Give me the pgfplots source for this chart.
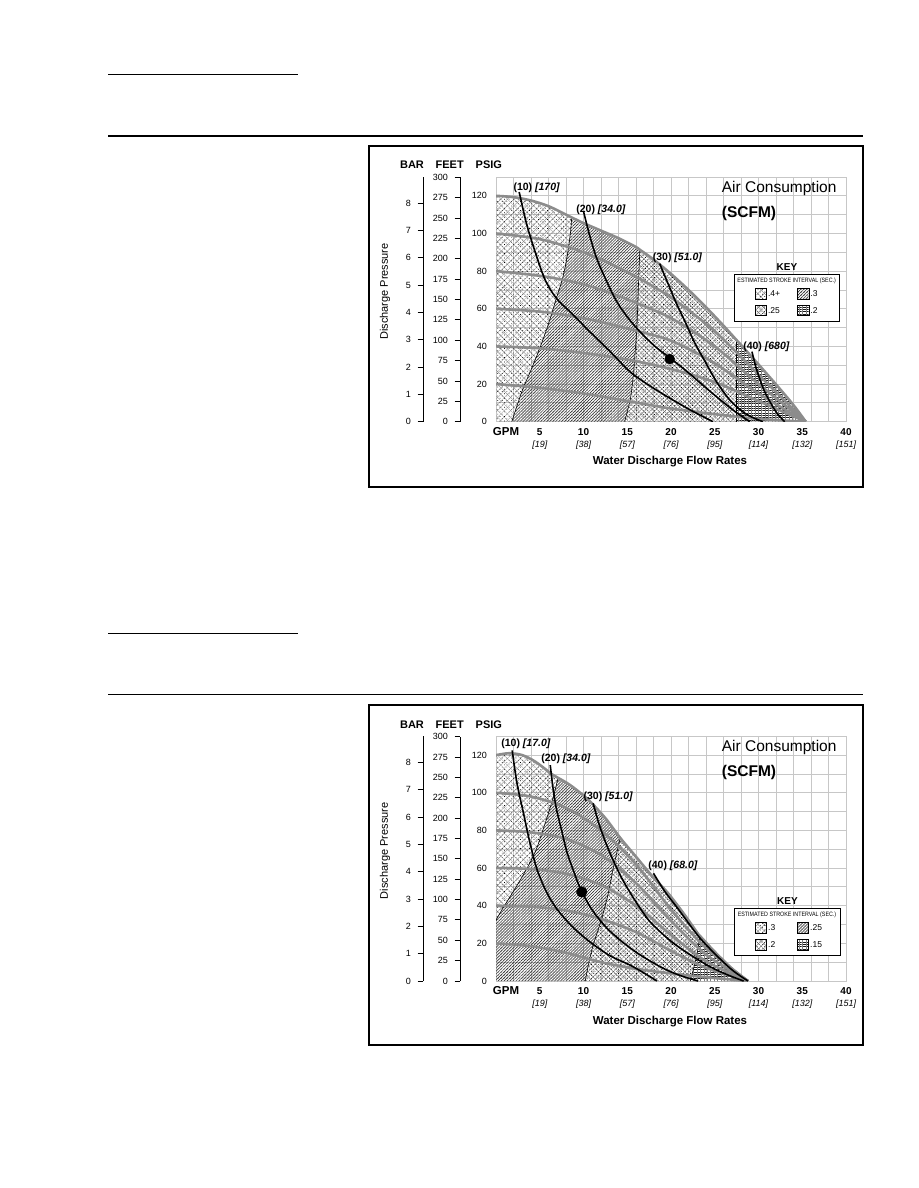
\documentclass[border=0pt]{standalone}
\usepackage{fontspec}
\setmainfont{Liberation Sans}
\usepackage{pgfplots}
\usepackage{pgfplotstable}
\pgfplotsset{compat=1.18}
\usetikzlibrary{patterns,patterns.meta}

% ---------------- TOP CHART DATA ----------------
\pgfplotstableread{
x y
0 120
2 119.3
4 117.5
6 114.5
8 110
8.65 108.5
10 105.5
12 101.5
14 97.5
16 92.8
16.45 91.3
18 86.2
20 78.5
22 70
24 60.8
26 51
27.5 43.3
28 40.8
30 30.4
32 19.8
34 8.8
35.4 0
}\tOuter
\pgfplotstableread{
x y
0 100
5 97
10 90
15 79.5
20 66
25 48
30 25
35.4 0
}\tPa
\pgfplotstableread{
x y
0 80
5 77.5
10 73
15 65
20 55
25 40
30 20
35.4 0
}\tPb
\pgfplotstableread{
x y
0 60
5 58.5
10 55
15 49.5
20 43
25 31
30 15
35.4 0
}\tPc
\pgfplotstableread{
x y
0 40
5 39
10 36.5
15 33
20 28
25 21
30 11
35.4 0
}\tPd
\pgfplotstableread{
x y
0 20
5 18
10 15
15 11
20 7
25 4
30 1.5
35.4 0
}\tPe
\pgfplotstableread{
x y
2.65 122
3.5 105
4.46 90.4
5.6 75.5
6.9 65.6
8.7 57.3
10.7 47.9
13 37.5
15.3 26.6
17.5 19.3
19.9 12.4
22.3 6
24.8 0
}\tSa
\pgfplotstableread{
x y
10 111.7
10.7 99
11.5 86.9
12.6 75
13.8 63.8
15.2 54.5
16.8 46.1
18.3 39.5
19.9 33.8
22 26
24.5 16
27 6.5
29 0
}\tSb
\pgfplotstableread{
x y
18.7 84
19.6 74
20.6 63
21.6 53.2
22.7 42
23.9 31.9
25.3 20.5
26.9 10.6
28.6 4
30.5 0
}\tSc
\pgfplotstableread{
x y
29.25 37.2
29.7 29
30.2 22
30.7 16
31.5 9
32.2 4
33 0
}\tSd
\pgfplotstableread{
x y
8.65 108.5
8.5 100
8.1 87
7.6 76
6.9 65.6
6.0 52
5.0 39
4.0 27.5
3.1 17.8
2.4 8.5
1.8 0
}\tBa
\pgfplotstableread{
x y
16.45 91.3
16.4 87
16.3 75
16.2 62
16.1 49.6
15.9 37
15.7 24.8
15.35 12
14.7 0
}\tBb
\pgfplotstableread{
x y
27.5 43.3
27.5 0
}\tBc
\pgfplotstableread{
x y
0 0
0 120
2 119.3
4 117.5
6 114.5
8 110
8.65 108.5
8.5 100
8.1 87
7.6 76
6.9 65.6
6.0 52
5.0 39
4.0 27.5
3.1 17.8
2.4 8.5
1.8 0
}\tRA
\pgfplotstableread{
x y
1.8 0
2.4 8.5
3.1 17.8
4.0 27.5
5.0 39
6.0 52
6.9 65.6
7.6 76
8.1 87
8.5 100
8.65 108.5
10 105.5
12 101.5
14 97.5
16 92.8
16.45 91.3
16.4 87
16.3 75
16.2 62
16.1 49.6
15.9 37
15.7 24.8
15.35 12
14.7 0
}\tRB
\pgfplotstableread{
x y
14.7 0
15.35 12
15.7 24.8
15.9 37
16.1 49.6
16.2 62
16.3 75
16.4 87
16.45 91.3
18 86.2
20 78.5
22 70
24 60.8
26 51
27.5 43.3
27.5 0
}\tRC
\pgfplotstableread{
x y
27.5 0
27.5 43.3
28 40.8
30 30.4
32 19.8
34 8.8
35.4 0
}\tRD

% ---------------- BOTTOM CHART DATA ----------------
\pgfplotstableread{
x y
0 120
1.5 121
3 120
4.5 116.5
6.5 109.5
7.1 107.9
8.5 104
10.5 96.5
12.5 86.5
14.2 76
16 66
17.8 56
19.6 47
21.5 35.5
23.1 25
23.3 24
25 15.5
27 6.5
28.8 0
}\bOuter
\pgfplotstableread{
x y
0 100
4 98
8 92
12 80
16 62
20 38
24 17.5
28.8 0
}\bPa
\pgfplotstableread{
x y
0 80
4 79
8 75.5
12 67
16 52
20 32
24 14
28.8 0
}\bPb
\pgfplotstableread{
x y
0 60
4 59.5
8 57
12 51
16 40
20 24.5
24 10.5
28.8 0
}\bPc
\pgfplotstableread{
x y
0 40
4 39.5
8 37.5
12 33
16 26
20 16
24 7
28.8 0
}\bPd
\pgfplotstableread{
x y
0 20
4 18.5
8 15
12 10
16 6.5
20 4
24 2
28.8 0
}\bPe
\pgfplotstableread{
x y
1.85 122.5
2.4 105
3.1 90
3.8 75
4.65 59.8
5.7 48
6.9 38.6
8.7 29
10.7 20.9
13 13.5
15.3 8.5
17 4
18.4 0
}\bSa
\pgfplotstableread{
x y
6.2 114.7
6.5 103
6.9 91.6
7.5 80
8.1 68.6
8.9 58
9.8 47.4
11.1 37
12.7 28
14.5 20.5
16.5 13.8
19 7
21 3
23.1 0
}\bSb
\pgfplotstableread{
x y
11.1 94.4
11.8 83
12.65 72.2
13.6 62
14.6 52.7
16 42
17.6 31.5
19.9 21.5
22 14.5
24.5 7.5
26.5 3.2
28.3 0
}\bSc
\pgfplotstableread{
x y
18 57.2
19.3 47.5
20.7 39
23.1 24
25 14.5
27 5.8
28.8 0
}\bSd
\pgfplotstableread{
x y
7.1 107.9
6.5 97
5.8 86.4
5.2 78
4.65 70.5
3.9 63
3.1 56.3
2.3 50
1.5 44
0.7 38
0 32.4
}\bBa
\pgfplotstableread{
x y
14.2 76
13.8 68
13.4 60
12.9 48
12.3 36.8
11.7 27.5
11.1 19
10.6 9.5
10.2 0
}\bBb
\pgfplotstableread{
x y
23.3 24
23.0 15
22.6 7
22.2 0
}\bBc
\pgfplotstableread{
x y
0 32.4
0 120
1.5 121
3 120
4.5 116.5
6.5 109.5
7.1 107.9
6.5 97
5.8 86.4
5.2 78
4.65 70.5
3.9 63
3.1 56.3
2.3 50
1.5 44
0.7 38
}\bRA
\pgfplotstableread{
x y
0 0
0 32.4
0.7 38
1.5 44
2.3 50
3.1 56.3
3.9 63
4.65 70.5
5.2 78
5.8 86.4
6.5 97
7.1 107.9
8.5 104
10.5 96.5
12.5 86.5
14.2 76
13.8 68
13.4 60
12.9 48
12.3 36.8
11.7 27.5
11.1 19
10.6 9.5
10.2 0
}\bRB
\pgfplotstableread{
x y
10.2 0
10.6 9.5
11.1 19
11.7 27.5
12.3 36.8
12.9 48
13.4 60
13.8 68
14.2 76
16 66
17.8 56
19.6 47
21.5 35.5
23.1 25
23.3 24
23.0 15
22.6 7
22.2 0
}\bRC
\pgfplotstableread{
x y
22.2 0
22.6 7
23.0 15
23.3 24
25 15.5
27 6.5
28.8 0
}\bRD

\tikzset{
 pA1/.style={pattern={Hatch[distance=4.6pt,angle=45,line width=0.25pt]}, pattern color=black!50},
 pA2/.style={pattern={Dots[distance=3.2pt,angle=45,radius=0.5pt]}, pattern color=black},
 pB1/.style={pattern={Lines[distance=2.1pt,angle=45,line width=0.5pt]}, pattern color=black!90},
 pB2/.style={pattern={Dots[distance=2.1pt,angle=45,radius=0.3pt,xshift=1pt]}, pattern color=black!70},
 pC1/.style={pattern={Hatch[distance=3.6pt,angle=45,line width=0.3pt]}, pattern color=black!55},
 pC2/.style={pattern={Dots[distance=2.55pt,angle=45,radius=0.5pt]}, pattern color=black},
 pD1/.style={pattern={Lines[distance=2.3pt,angle=0,line width=0.45pt]}, pattern color=black!90},
 pD2/.style={pattern={Lines[distance=3.4pt,angle=90,line width=0.3pt]}, pattern color=black!50},
}

\pgfplotsset{
 chart/.style={scale only axis, anchor=south west, width=350pt, height=244.7pt,
   xmin=0, xmax=40, ymin=0, ymax=130,
   xtick={0,2,...,40}, ytick={0,10,...,130},
   xticklabels={}, yticklabels={0,{},20,{},40,{},60,{},80,{},100,{},120,{}},
   major tick length=0pt, grid=major,
   major grid style={draw=black!22, line width=0.8pt},
   axis line style={draw=black!22, line width=0.8pt},
   yticklabel style={font=\fontsize{9}{10}\selectfont, xshift=-5.5pt},
   /pgf/number format/assume math mode=true},
 scale/.style={scale only axis, anchor=south west, width=2pt,
   xmin=0, xmax=1, ymin=0, axis x line=none, axis y line=left,
   axis line style={-, black, line width=1pt}, tick align=outside,
   major tick length=5.5pt, tick style={black, line width=0.9pt},
   xtick=\empty,
   yticklabel style={font=\fontsize{9}{10}\selectfont, xshift=-3pt},
   /pgf/number format/assume math mode=true},
 gcurve/.style={smooth, draw=black!45, line width=2.6pt},
 bcurve/.style={smooth, draw=black, line width=1.6pt},
 bnd/.style={smooth, draw=black, line width=0.6pt},
}

\begin{document}
\begin{tikzpicture}
\useasboundingbox (0pt,0pt) rectangle (918pt,-1188pt);
\fill[white] (0pt,0pt) rectangle (918pt,-1188pt);

% ===== TOP CHART =====
\begin{axis}[chart, at={(496pt,-421.7pt)}]
 \addplot[draw=none,pA1] table {\tRA};
 \addplot[draw=none,pA2] table {\tRA};
 \addplot[draw=none,pB1] table {\tRB};
 \addplot[draw=none,pB2] table {\tRB};
 \addplot[draw=none,pC1] table {\tRC};
 \addplot[draw=none,pC2] table {\tRC};
 \addplot[draw=none,pD1] table {\tRD};
 \addplot[draw=none,pD2] table {\tRD};
 \addplot[bnd] table {\tBa};
 \addplot[bnd] table {\tBb};
 \addplot[bnd] table {\tBc};
 \addplot[gcurve] table {\tPe};
 \addplot[gcurve] table {\tPd};
 \addplot[gcurve] table {\tPc};
 \addplot[gcurve] table {\tPb};
 \addplot[gcurve] table {\tPa};
 \addplot[gcurve] table {\tOuter};
 \addplot[bcurve] table {\tSa};
 \addplot[bcurve] table {\tSb};
 \addplot[bcurve] table {\tSc};
 \addplot[bcurve] table {\tSd};
 \addplot[only marks, mark=*, mark size=5pt, black] coordinates {(19.85,33.3)};
\end{axis}
\begin{axis}[scale, at={(423pt,-421.7pt)}, height=244.7pt, ymax=8.963, ytick={0,...,8}]
 \addplot[draw=none] coordinates {(0,0)};
\end{axis}
\begin{axis}[scale, at={(460pt,-421.7pt)}, height=244.4pt, ymax=300, ytick={0,25,...,300}]
 \addplot[draw=none] coordinates {(0,0)};
\end{axis}

% ===== BOTTOM CHART =====
\begin{axis}[chart, at={(496pt,-981pt)}]
 \addplot[draw=none,pA1] table {\bRA};
 \addplot[draw=none,pA2] table {\bRA};
 \addplot[draw=none,pB1] table {\bRB};
 \addplot[draw=none,pB2] table {\bRB};
 \addplot[draw=none,pC1] table {\bRC};
 \addplot[draw=none,pC2] table {\bRC};
 \addplot[draw=none,pD1] table {\bRD};
 \addplot[draw=none,pD2] table {\bRD};
 \addplot[bnd] table {\bBa};
 \addplot[bnd] table {\bBb};
 \addplot[bnd] table {\bBc};
 \addplot[gcurve] table {\bPe};
 \addplot[gcurve] table {\bPd};
 \addplot[gcurve] table {\bPc};
 \addplot[gcurve] table {\bPb};
 \addplot[gcurve] table {\bPa};
 \addplot[gcurve] table {\bOuter};
 \addplot[bcurve] table {\bSa};
 \addplot[bcurve] table {\bSb};
 \addplot[bcurve] table {\bSc};
 \addplot[bcurve] table {\bSd};
 \addplot[only marks, mark=*, mark size=5.3pt, black] coordinates {(9.8,47.3)};
\end{axis}
\begin{axis}[scale, at={(423pt,-981pt)}, height=244.7pt, ymax=8.963, ytick={0,...,8}]
 \addplot[draw=none] coordinates {(0,0)};
\end{axis}
\begin{axis}[scale, at={(460pt,-981pt)}, height=244.4pt, ymax=300, ytick={0,25,...,300}]
 \addplot[draw=none] coordinates {(0,0)};
\end{axis}

\begin{scope}[x=1pt,y=-1pt]
 % page rules
 \draw[line width=1pt] (108,75) -- (298,75);
 \draw[line width=1.7pt] (108,136) -- (863,136);
 \draw[line width=1pt] (108,633) -- (298,633);
 \draw[line width=1pt] (108,694) -- (863,694);
 % frames
 \draw[line width=1.2pt] (369,146) rectangle (863,487);
 \draw[line width=1.2pt] (369,705) rectangle (863,1045);

 \foreach \dy in {0,559.3} {
  \node[font=\fontsize{11}{12}\selectfont\bfseries] at (412,165+\dy) {BAR};
  \node[font=\fontsize{11}{12}\selectfont\bfseries] at (449.7,165+\dy) {FEET};
  \node[font=\fontsize{11}{12}\selectfont\bfseries] at (488.8,165+\dy) {PSIG};
  \node[rotate=90, font=\fontsize{11}{12}\selectfont] at (385,291.5+\dy) {Discharge Pressure};
  \node[font=\fontsize{11.5}{12}\selectfont\bfseries] at (506,431.7+\dy) {GPM};
  \foreach \g/\m in {5/19,10/38,15/57,20/76,25/95,30/114,35/132,40/151} {
   \node[font=\fontsize{10}{11}\selectfont\bfseries] at ({496+8.75*\g},431.7+\dy) {\g};
   \node[font=\fontsize{9}{10}\selectfont\itshape] at ({496+8.75*\g},445.3+\dy) {[\m]};
  }
  \node[font=\fontsize{11.5}{12}\selectfont\bfseries] at (670,462+\dy) {Water Discharge Flow Rates};
  \node[anchor=west, inner sep=0pt, font=\fontsize{15.5}{16}\selectfont] at (721.7,188+\dy) {Air Consumption};
  \node[anchor=west, inner sep=0pt, font=\fontsize{15.5}{16}\selectfont\bfseries] at (721.7,213.3+\dy) {(SCFM)};
 }

 % curve labels
 \begin{scope}[every node/.style={font=\fontsize{10.5}{11}\selectfont\bfseries, inner sep=0pt}]
  \node at (536.7,187.7) {(10) \textit{[170]}};
  \node at (601,210) {(20) \textit{[34.0]}};
  \node at (677.5,258) {(30) \textit{[51.0]}};
  \node at (766.5,346.7) {(40) \textit{[680]}};
  \node at (526,743.3) {(10) \textit{[17.0]}};
  \node at (566,758.3) {(20) \textit{[34.0]}};
  \node at (608.3,796.7) {(30) \textit{[51.0]}};
  \node at (673,866) {(40) \textit{[68.0]}};
 \end{scope}

 % top key
 \node[font=\fontsize{10}{11}\selectfont\bfseries] at (787,266.7) {KEY};
 \draw[line width=0.9pt, fill=white] (734.3,274.3) rectangle (839,321);
 \node[inner sep=0pt] at (786.7,281) {\scalebox{0.85}[1]{\fontsize{6.3}{7}\selectfont ESTIMATED STROKE INTERVAL (SEC.)}};
 \fill[pA1] (755.7,288.3) rectangle (766.7,299); \fill[pA2] (755.7,288.3) rectangle (766.7,299);
 \draw[line width=0.6pt] (755.7,288.3) rectangle (766.7,299);
 \fill[pB1] (797.7,288.3) rectangle (809,299); \fill[pB2] (797.7,288.3) rectangle (809,299);
 \draw[line width=0.6pt] (797.7,288.3) rectangle (809,299);
 \fill[pC1] (755.7,305) rectangle (766.7,315.7); \fill[pC2] (755.7,305) rectangle (766.7,315.7);
 \draw[line width=0.6pt] (755.7,305) rectangle (766.7,315.7);
 \fill[pD1] (797.7,305) rectangle (809,315.7); \fill[pD2] (797.7,305) rectangle (809,315.7);
 \draw[line width=0.6pt] (797.7,305) rectangle (809,315.7);
 \begin{scope}[every node/.style={anchor=west, inner sep=0pt, font=\fontsize{8.5}{9}\selectfont}]
  \node at (767.8,293.7) {.4+};
  \node at (810.2,293.7) {.3};
  \node at (767.8,310.3) {.25};
  \node at (810.2,310.3) {.2};
 \end{scope}

 % bottom key
 \node[font=\fontsize{10}{11}\selectfont\bfseries] at (787.5,901) {KEY};
 \draw[line width=0.9pt, fill=white] (734.3,908.3) rectangle (840,955);
 \node[inner sep=0pt] at (787,915) {\scalebox{0.85}[1]{\fontsize{6.3}{7}\selectfont ESTIMATED STROKE INTERVAL (SEC.)}};
 \fill[pA1] (755.3,922.3) rectangle (766.7,933.3); \fill[pA2] (755.3,922.3) rectangle (766.7,933.3);
 \draw[line width=0.6pt] (755.3,922.3) rectangle (766.7,933.3);
 \fill[pB1] (797.3,922.3) rectangle (808.7,933.3); \fill[pB2] (797.3,922.3) rectangle (808.7,933.3);
 \draw[line width=0.6pt] (797.3,922.3) rectangle (808.7,933.3);
 \fill[pC1] (755.3,939) rectangle (766.7,950); \fill[pC2] (755.3,939) rectangle (766.7,950);
 \draw[line width=0.6pt] (755.3,939) rectangle (766.7,950);
 \fill[pD1] (797.3,939) rectangle (808.7,950); \fill[pD2] (797.3,939) rectangle (808.7,950);
 \draw[line width=0.6pt] (797.3,939) rectangle (808.7,950);
 \begin{scope}[every node/.style={anchor=west, inner sep=0pt, font=\fontsize{8.5}{9}\selectfont}]
  \node at (768,928) {.3};
  \node at (810,928) {.25};
  \node at (768,944.6) {.2};
  \node at (810,944.6) {.15};
 \end{scope}
\end{scope}
\end{tikzpicture}
\end{document}
